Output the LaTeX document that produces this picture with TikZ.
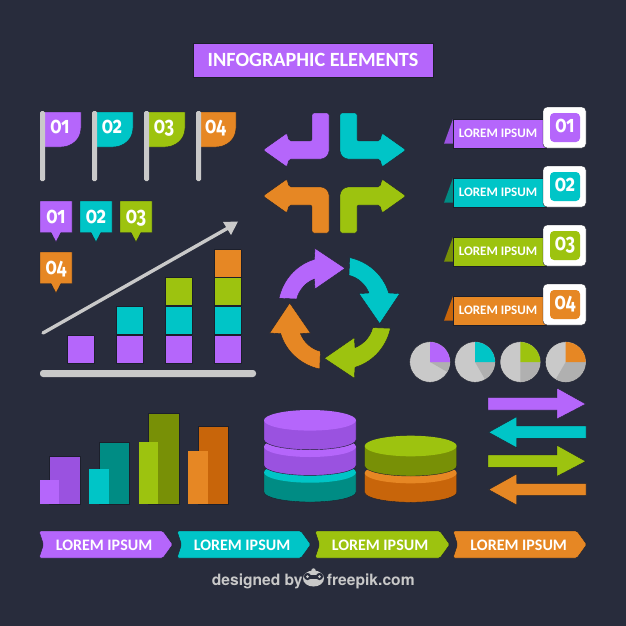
\documentclass[tikz,border=0pt]{standalone}
\usepackage{graphicx}
\usepackage{fontspec}
\setmainfont{Carlito}
\newfontfamily\numfont[Numbers=OldStyle]{Fira Sans}
\newfontfamily\logofont{TeX Gyre Heros}
\definecolor{bgc}{HTML}{282C3C}
\definecolor{edge}{HTML}{1C1F2B}
\definecolor{pu}{HTML}{B566FB}
\definecolor{puD}{HTML}{9A52E0}
\definecolor{te}{HTML}{00C5C7}
\definecolor{teD}{HTML}{008C84}
\definecolor{gr}{HTML}{9DC30F}
\definecolor{grD}{HTML}{789006}
\definecolor{or}{HTML}{E68724}
\definecolor{orD}{HTML}{C8650A}
\definecolor{lg}{HTML}{C9C9C9}
\definecolor{mg}{HTML}{B0B0B0}
\newcommand{\numlabel}[1]{\scalebox{0.78}[1]{#1}}
\tikzset{
  sh/.style={draw=edge,line width=.4pt,line join=round},
  numtxt/.style={text=white,font=\numfont\bfseries\fontsize{23}{23}\selectfont,inner sep=0pt,anchor=base},
  lorem/.style={text=white,font=\bfseries\fontsize{13}{13}\selectfont,inner sep=0pt},
  ribbontxt/.style={text=white,font=\bfseries\fontsize{16}{16}\selectfont,inner sep=0pt},
  footer/.style={text=lg,font=\logofont\bfseries\fontsize{15.6}{16}\selectfont,inner sep=0pt,anchor=base west},
}
\begin{document}
\begin{tikzpicture}[x=1pt,y=-1pt]
\useasboundingbox (0,0) rectangle (626,626);
\fill[bgc] (0,0) rectangle (626,626);

% title
\fill[pu,sh] (193,43) rectangle (433,77);
\node[text=white,font=\bfseries\fontsize{20.2}{20}\selectfont,inner sep=0pt] (title) at (313,60) {INFOGRAPHIC ELEMENTS};

% flags
\foreach \px/\fe/\c/\t in {40/81/pu/01,92/133/te/02,144/185/gr/03,196/236/or/04}{
  \fill[\c,sh] (\px+4,112) -- (\fe,112) -- (\fe,128) .. controls (\fe,139) and (\fe-9,147) .. (\fe-20,147) -- (\px+4,147) -- cycle;
  \fill[lg,rounded corners=1.5pt] (\px,111) rectangle (\px+5,181);
  \node[numtxt] (flag\t) at ({(\px+5+\fe)/2-3},133.3) {\numlabel{\t}};
}

% speech tags
\foreach \x/\y/\c/\t in {40/201/pu/01,80/201/te/02,120/201/gr/03,40/252/or/04}{
  \fill[\c,sh] (\x,\y) -- (\x+32,\y) -- (\x+32,\y+31.5) -- (\x+21,\y+31.5) -- (\x+16,\y+41) -- (\x+11,\y+31.5) -- (\x,\y+31.5) -- cycle;
  \node[numtxt] (tag\t) at (\x+16,\y+22.3) {\numlabel{\t}};
}

% stacked bars
\foreach \x/\y/\c in {67/335/pu,116/335/pu,165/335/pu,214/335/pu,
                      116/306/te,165/306/te,214/306/te,
                      165/277/gr,214/277/gr,214/249/or}{
  \fill[\c,sh] (\x,\y) rectangle (\x+27.5,\y+28);
}
\fill[lg,rounded corners=3pt] (40,370) rectangle (256,377);
\draw[lg,line width=3.4pt,line cap=round] (43,333) -- (228,228);
\fill[lg,line join=round] (238,221.5) -- (223,222) -- (231,235) -- cycle;

% elbow arrows
\def\elbow{(263,150) -- (287,133) -- (289,141) -- (312,141) -- (312,113) -- (329,113) -- (329,149) .. controls (329,155) and (325,159) .. (319,159) -- (289,159) -- (287,167) -- cycle}
\tikzset{elbowstyle/.style={sh,rounded corners=2pt}}
\fill[pu,elbowstyle] \elbow;
\begin{scope}[xscale=-1,xshift=-669pt]
\fill[te,elbowstyle] \elbow;
\end{scope}
\begin{scope}[yscale=-1,yshift=346pt]
\fill[or,elbowstyle] \elbow;
\end{scope}
\begin{scope}[xscale=-1,xshift=-669pt,yscale=-1,yshift=346pt]
\fill[gr,elbowstyle] \elbow;
\end{scope}

% circular arrows
\foreach \ang/\c in {0/pu,-90/te,-180/gr,-270/or}{
\begin{scope}[shift={(334.7,313.3)},rotate=\ang]
\fill[\c,sh] (-55.7,-15) -- (-38,-14.3) .. controls (-36,-23) and (-29,-31) .. (-20.3,-34.3)
  -- (-19.7,-24.3) -- (10.3,-45) -- (-19.7,-65) -- (-20.3,-54)
  .. controls (-40,-48) and (-52,-32) .. (-55.7,-15) -- cycle;
\end{scope}}

% right banners
\foreach \d/\c/\cd/\t in {0/pu/puD/01,59/te/teD/02,118/gr/grD/03,177/or/orD/04}{
  \fill[\cd] (453,119+\d) -- (444,143.7+\d) -- (453,143.7+\d) -- cycle;
  \fill[\c,sh] (453,119+\d) rectangle (546,148+\d);
  \fill[white,sh,rounded corners=4pt] (543,107+\d) rectangle (586,148+\d);
  \fill[\c,rounded corners=4pt] (550,113+\d) rectangle (580,142+\d);
  \node[lorem] (banner\t) at (498,133.5+\d) {LOREM IPSUM};
  \node[numtxt] (bannum\t) at (565,132.7+\d) {\numlabel{\t}};
}

% pies
\foreach \x/\c/\a in {430/pu/30,475/te/60,520.3/gr/90,565.7/or/120}{
  \fill[lg,sh] (\x,362) circle[radius=20.3];
  \fill[mg] (\x,362) -- (\x+20,362) arc[start angle=0,end angle=\a,radius=20] -- cycle;
  \fill[\c] (\x,362) -- (\x,342) arc[start angle=-90,end angle=0,radius=20] -- cycle;
}

% cylinders
\def\cyl#1#2#3#4#5{% x, top cy, bottom cy, light, dark
  \fill[#5,sh] (#1-46,#2) -- (#1-46,#3) arc[start angle=180,end angle=0,x radius=46,y radius=10] -- (#1+46,#2) -- cycle;
  \fill[#4] (#1,#2) ellipse[x radius=46,y radius=10.3];
}
\cyl{310}{472.4}{492}{te}{teD}
\cyl{310}{446.7}{465.4}{pu}{puD}
\cyl{310}{420.3}{439.7}{pu}{puD}
\cyl{410.7}{473}{492.3}{or}{orD}
\cyl{410.7}{446}{466}{gr}{grD}

% straight arrows
\foreach \d/\c in {0/pu,57.3/gr}{
  \fill[\c,sh] (488,397.7+\d) -- (557,397.7+\d) -- (557,388+\d) -- (585.7,404+\d) -- (557,419+\d) -- (557,410+\d) -- (488,410+\d) -- cycle;
}
\foreach \d/\c in {0/te,57.3/or}{
  \fill[\c,sh] (586,426+\d) -- (516.7,426+\d) -- (516.7,416.7+\d) -- (488.7,432.3+\d) -- (516.7,447.7+\d) -- (516.7,438.3+\d) -- (586,438.3+\d) -- cycle;
}

% column bars
\foreach \dl/\dr/\dt/\ll/\lr/\lt/\c/\cd in {49.3/79.7/456/40/59.3/480/pu/puD,
  99.3/129.3/442.3/89.3/109/469/te/teD,
  148.3/178.7/412.7/139/158.3/442.3/gr/grD,
  198/228.3/426.3/188.3/207.7/451.3/or/orD}{
  \fill[\cd,sh] (\dl,\dt) rectangle (\dr,504.3);
  \fill[\c] (\ll,\lt) rectangle (\lr,504.3);
}

% bottom ribbons
\foreach \lf/\rt/\tx/\c in {39/163/104/pu,177/301/242/te,315/440/380/gr,453/577/518.7/or}{
  \fill[\c,sh,rounded corners=1.5pt] (\lf,531) -- (\rt,531) -- (\rt+9.7,544.5) -- (\rt,558) -- (\lf,558) -- (\lf+4.5,544.5) -- cycle;
  \node[ribbontxt] (rib\lf) at (\tx,545) {LOREM IPSUM};
}

% footer
\node[footer] (designed) at (211.7,585) {designed by};
\node[footer] (freepik) at (326.7,585) {freepik.com};
\fill[lg] (313.5,578.5) ellipse[x radius=10.5,y radius=8];
\fill[lg] (313.5,570.5) circle[radius=2.2];
\fill[bgc] (307.5,576.5) circle[radius=3.6];
\fill[bgc] (319.5,576.5) circle[radius=3.6];
\fill[bgc] (307.5,574.5) rectangle (319.5,578.5);
\fill[lg] (307.5,576.5) circle[radius=1.5];
\fill[lg] (319.5,576.5) circle[radius=1.5];
\end{tikzpicture}
\end{document}
